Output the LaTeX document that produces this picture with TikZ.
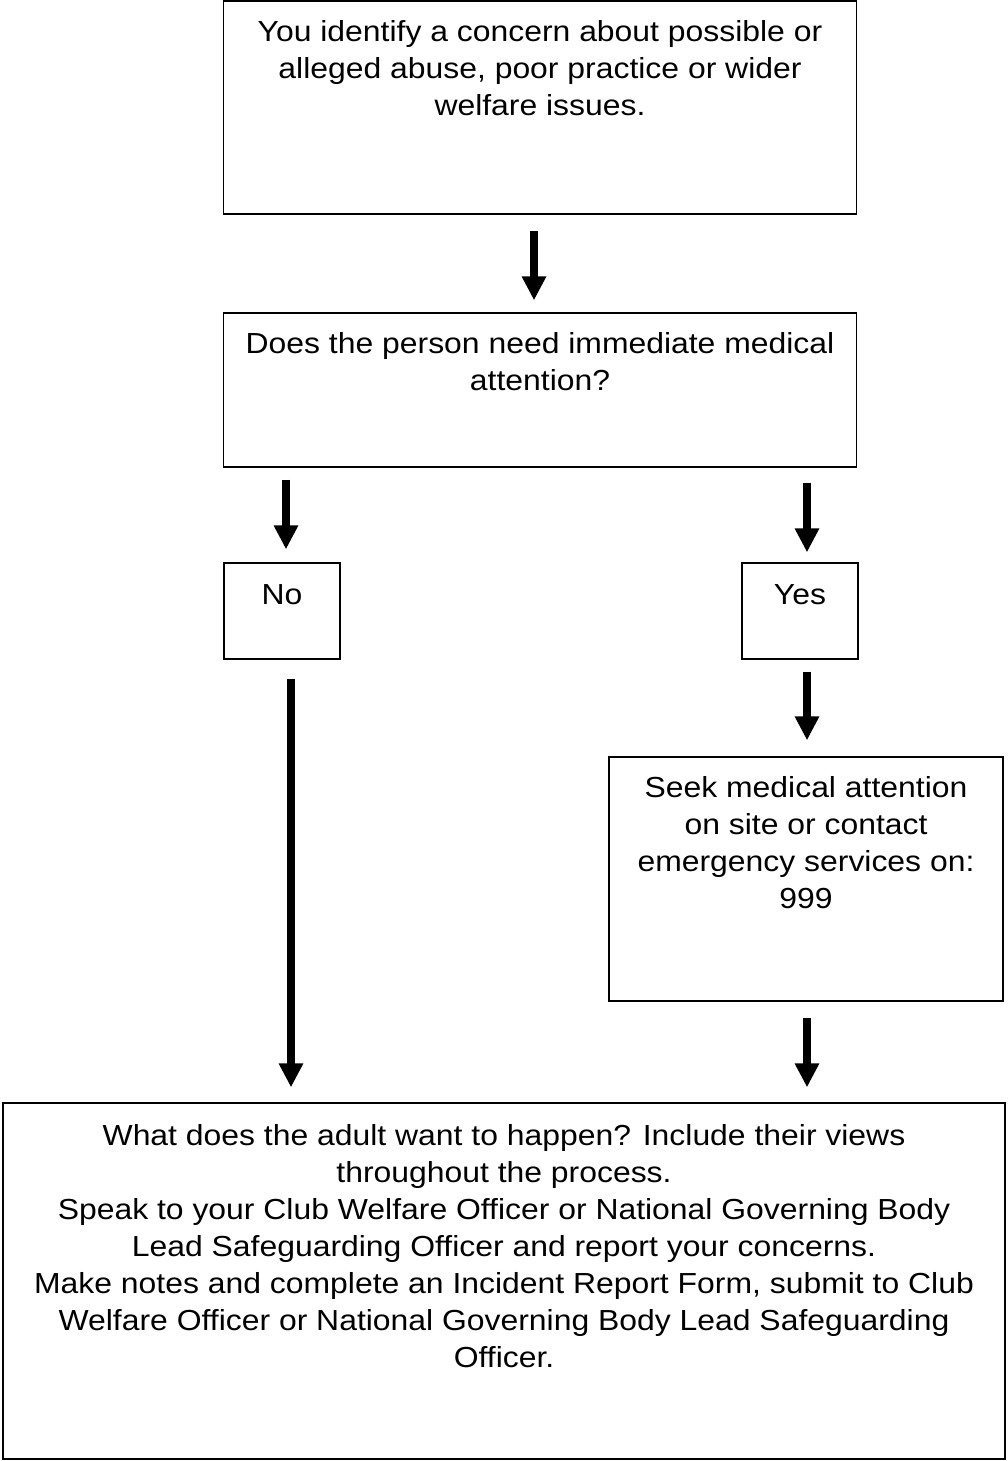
\documentclass[tikz,border=0pt]{standalone}
\usepackage{fontspec}
\setmainfont[FakeStretch=1.1]{Liberation Sans}
\usetikzlibrary{arrows.meta,positioning}

\begin{document}
\begin{tikzpicture}[x=1pt, y=-1pt,
    box/.style={draw, line width=1.3pt, rectangle, inner sep=0pt},
    txt/.style={align=center, inner sep=0pt, font=\fontsize{29pt}{37pt}\selectfont},
    flow/.style={line width=8pt, -{Triangle[width=23pt,length=24pt]}, shorten <=15pt, shorten >=13pt}]
    \useasboundingbox (0,0) rectangle (1007,1461);

    % boxes
    \node[box, minimum width=633pt, minimum height=213pt] (concern) at (540,107.5) {};
    \node[box, minimum width=633pt, minimum height=154pt] (question) at (540,390) {};
    \node[box, minimum width=116pt, minimum height=96pt] (no) at (282,611) {};
    \node[box, minimum width=116pt, minimum height=96pt] (yes) at (800,611) {};
    \node[box, minimum width=394pt, minimum height=244pt] (seek) at (806,879) {};
    \node[box, minimum width=1002pt, minimum height=356pt] (report) at (504,1281) {};

    % texts
    \node[txt, below=20pt of concern.north] (concerntxt) {You identify a concern about possible or\\alleged abuse, poor practice or wider\\welfare issues.};
    \node[txt, below=20pt of question.north] (questiontxt) {Does the person need immediate medical\\attention?};
    \node[txt, below=22pt of no.north] (notxt) {No};
    \node[txt, below=22pt of yes.north] (yestxt) {Yes};
    \node[txt, below=20pt of seek.north] (seektxt) {Seek medical attention\\on site or contact\\emergency services on:\\999};
    \node[txt, below=22pt of report.north] (reporttxt) {What does the adult want to happen? Include their views\\throughout the process.\\Speak to your Club Welfare Officer or National Governing Body\\Lead Safeguarding Officer and report your concerns.\\Make notes and complete an Incident Report Form, submit to Club\\Welfare Officer or National Governing Body Lead Safeguarding\\Officer.};

    % arrows
    \draw[flow, shorten <=16pt, shorten >=12pt] ([xshift=-6pt]concern.south) -- ([xshift=-6pt]question.north);
    \draw[flow, shorten <=12pt] ([xshift=-254pt]question.south) -- ([xshift=4pt]no.north);
    \draw[flow, shorten >=10pt] ([xshift=267pt]question.south) -- ([xshift=7pt]yes.north);
    \draw[flow, shorten <=19pt, shorten >=15pt] ([xshift=9pt]no.south) -- ([xshift=-213pt]report.north);
    \draw[flow, shorten <=12pt, shorten >=16pt] ([xshift=7pt]yes.south) -- ([xshift=1pt]seek.north);
    \draw[flow, shorten <=16pt, shorten >=15pt] ([xshift=1pt]seek.south) -- ([xshift=303pt]report.north);
\end{tikzpicture}
\end{document}
